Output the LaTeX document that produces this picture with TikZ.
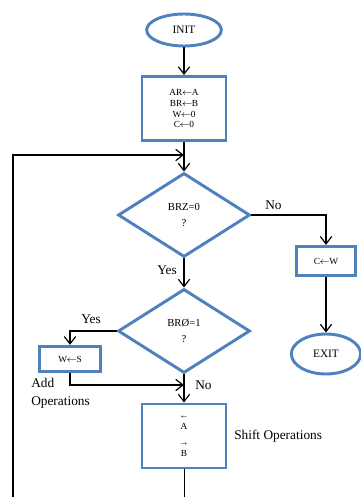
\documentclass[tikz,border=0pt]{standalone}
\usepackage{fontspec}
\setmainfont{Liberation Serif}
\usetikzlibrary{shapes.geometric,arrows.meta}
\definecolor{flowblue}{RGB}{79,129,189}
\newcommand{\getsarrow}{\ensuremath{\mkern-1mu\leftarrow\mkern-1mu}}
\begin{document}
\begin{tikzpicture}
    [
  x=0.75pt, y=-0.75pt,
  terminal/.style={
    ellipse,
    draw=flowblue,
    line width=2.2pt,
    inner sep=0pt,
    font=\fontsize{8.5}{10}\selectfont
  },
  process/.style={
    rectangle,
    draw=flowblue,
    line width=2.2pt,
    inner sep=0pt,
    align=center,
    font=\fontsize{7}{8.2}\selectfont
  },
  decision/.style={
    diamond,
    draw=flowblue,
    line width=2.2pt,
    inner sep=0pt,
    minimum width=99pt,
    minimum height=63pt,
    align=center,
    font=\fontsize{8}{12.5}\selectfont
  },
  flow/.style={
    -{Straight Barb[length=5.5pt,width=8.5pt]},
    line width=0.9pt
  },
  note/.style={
    inner sep=0pt,
    align=left,
    font=\fontsize{10}{13.5}\selectfont
  }
  ]
  \useasboundingbox (0,0) rectangle (361,497);
  \node (init) at (184,30) [terminal, minimum width=56pt, minimum height=24pt] {INIT};
  \node (setup) at (184,108.5) [process, minimum width=63pt, minimum height=48pt] {AR\getsarrow A\\BR\getsarrow B\\W\getsarrow 0\\C\getsarrow 0};
  \coordinate (loopin) at (184,155);
  \node (test1) at (184,215) [decision] {BRZ=0\\?};
  \node (cw) at (326,261) [process, minimum width=44pt, minimum height=22pt] {C\getsarrow W};
  \node (exit) at (326,354) [terminal, minimum width=52pt, minimum height=30pt] {EXIT};
  \node (test2) at (184,331) [decision] {BRØ=1\\?};
  \node (ws) at (70,359) [process, minimum width=46pt, minimum height=19pt] {W\getsarrow S};
  \coordinate (merge) at (184,385);
  \node (shift) at (184,436) [process, minimum width=63pt, minimum height=48pt] {←\\A\\[4pt]→\\B};
  \coordinate (down) at (184,497);
  \coordinate (back) at (13,497);

  \draw [flow] (init) -- (setup);
  \draw [flow] (setup) -- (test1);
  \draw [flow] (back) |- (loopin);
  \draw [flow] (test1.east) -| (cw);
  \draw [flow] (cw) -- (exit);
  \draw [flow] (test1) -- (test2);
  \draw [flow] (test2.west) -| (ws);
  \draw [flow] (ws.south) |- (merge);
  \draw [flow] (test2) -- (shift);
  \draw (shift) -- (down);

  \node (no1) at (265,205) [note, anchor=west] {No};
  \node (yes1) at (167,270) [note] {Yes};
  \node (yes2) at (91,319) [note] {Yes};
  \node (no2) at (195,385) [note, anchor=west] {No};
  \node (addop) at (31,393) [note, anchor=west] {Add\\Operations};
  \node (shiftop) at (234,436) [note, anchor=west] {Shift Operations};
\end{tikzpicture}
\end{document}
